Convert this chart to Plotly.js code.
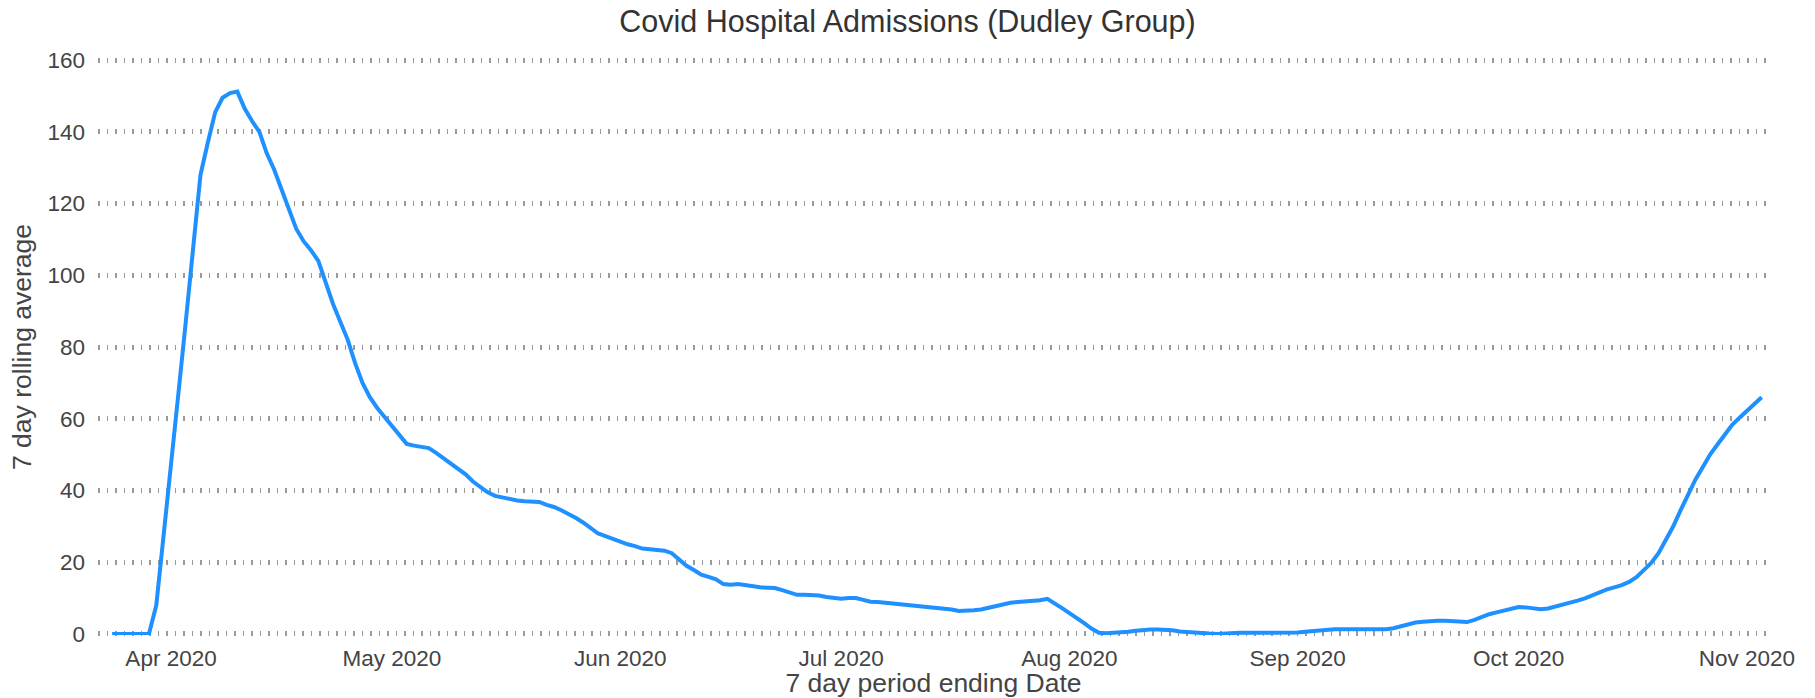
<!DOCTYPE html>
<html>
<head>
<meta charset="utf-8">
<script src="https://cdn.plot.ly/plotly-3.0.1.min.js"></script>
<style>
  html, body { margin: 0; padding: 0; background: #ffffff; }
  #chart { width: 1815px; height: 698px; }
</style>
</head>
<body>
<div id="chart"></div>
<script>
// First date of the series; one value per day follows
const startDate = "2020-03-24";

// 7 day rolling average of Covid hospital admissions (Dudley Group), daily from 24 Mar 2020 to 3 Nov 2020
const admissionsMar = [0, 0, 0, 0, 0, 0, 8, 27];
const admissionsApr = [47, 67, 87, 107, 128, 137, 145.5, 149.5, 150.8, 151.2,
  146.5, 143, 140, 134, 129.5, 124, 118.5, 113, 109.5, 107,
  104, 98, 92, 87, 82, 75.5, 70, 66, 63, 60.5];
const admissionsMay = [58, 55.5, 53, 52.5, 52.2, 51.8, 50.5, 49, 47.5, 46,
  44.5, 42.5, 41, 39.5, 38.5, 38, 37.5, 37.2, 37, 37,
  36.8, 36, 35.4, 34.5, 33.5, 32.3, 31, 29.5, 28, 27.3, 26.5];
const admissionsJun = [25.8, 25, 24.5, 23.8, 23.6, 23.5, 23.2, 22.5, 20.6, 19,
  17.8, 16.5, 15.9, 15.2, 13.9, 13.7, 13.9, 13.6, 13.2, 13,
  12.9, 12.8, 12.2, 11.5, 10.9, 10.9, 10.9, 10.7, 10.3, 10];
const admissionsJul = [9.8, 10, 10, 9.5, 9, 8.9, 8.7, 8.6, 8.2, 8,
  7.8, 7.6, 7.5, 7.3, 7, 6.8, 6.4, 6.4, 6.6, 6.8,
  7.3, 7.9, 8.4, 8.7, 8.9, 9, 9.1, 9.4, 9.8, 8.6, 7.2];
const admissionsAug = [5.8, 4.5, 3, 1.5, 0.3, 0.2, 0.3, 0.4, 0.6, 0.9,
  1.1, 1.2, 1.2, 1.2, 1, 0.7, 0.5, 0.3, 0.2, 0.1,
  0, 0, 0.2, 0.3, 0.3, 0.3, 0.3, 0.3, 0.2, 0.2, 0.3];
const admissionsSep = [0.4, 0.6, 0.8, 1.1, 1.2, 1.3, 1.3, 1.3, 1.2, 1.1,
  1.1, 1.2, 1.3, 1.6, 2.2, 2.8, 3.2, 3.4, 3.6, 3.7,
  3.7, 3.6, 3.4, 3.3, 3.9, 4.8, 5.5, 6, 6.5, 7];
const admissionsOct = [7.5, 7.4, 7.1, 6.9, 7.1, 7.6, 8.1, 8.7, 9.3, 9.9,
  10.8, 11.7, 12.4, 13, 13.6, 14.5, 15.8, 17.8, 19.8, 22.5,
  26, 30, 34.5, 39, 43, 46.5, 50, 52.8, 55.6, 58.3, 60.3];
const admissionsNov = [62.3, 64.2, 66];

// Axis text
const chartTitle = "Covid Hospital Admissions (Dudley Group)";
const xTitle = "7 day period ending Date";
const yTitle = "7 day rolling average";
const yTicks = [0, 20, 40, 60, 80, 100, 120, 140, 160];

const values = [].concat(admissionsMar, admissionsApr, admissionsMay, admissionsJun,
  admissionsJul, admissionsAug, admissionsSep, admissionsOct, admissionsNov);

// Consecutive daily dates for the values
const dates = [];
(function () {
  const d0 = new Date(startDate + "T00:00:00Z");
  for (let i = 0; i < values.length; i++) {
    const d = new Date(d0.getTime() + i * 86400000);
    dates.push(d.toISOString().slice(0, 10));
  }
})();

const FONT = "Arial, 'Liberation Sans', sans-serif";

const trace = {
  type: "scatter",
  mode: "lines",
  x: dates,
  y: values,
  line: { color: "#1E90FF", width: 4 },
  cliponaxis: false,
  hoverinfo: "x+y"
};

const layout = {
  width: 1815,
  height: 698,
  paper_bgcolor: "#ffffff",
  plot_bgcolor: "#ffffff",
  margin: { l: 98, r: 46, t: 59, b: 63 },
  showlegend: false,
  font: { family: FONT, color: "#444444" },
  title: {
    text: chartTitle,
    font: { family: FONT, size: 30.5, color: "#333333" },
    x: 0.5, xref: "container", xanchor: "center",
    y: 1 - 21 / 698, yref: "container", yanchor: "middle"
  },
  xaxis: {
    type: "date",
    range: ["2020-03-22 02:00", "2020-11-04 00:00"],
    tick0: "2020-04-01",
    dtick: "M1",
    tickformat: "%b %Y",
    ticks: "",
    ticklabelstandoff: 7,
    showgrid: false,
    zeroline: false,
    showline: false,
    tickfont: { family: FONT, size: 22.5, color: "#444444" },
    title: { text: xTitle, font: { family: FONT, size: 26.5, color: "#444444" }, standoff: 0 }
  },
  yaxis: {
    range: [-0.3, 160.3],
    tickvals: yTicks,
    ticks: "",
    ticklabelstandoff: 12,
    showgrid: true,
    gridcolor: "#9a9a9a",
    gridwidth: 5,
    griddash: "1.5px,7px",
    zeroline: false,
    showline: false,
    tickfont: { family: FONT, size: 22.5, color: "#444444" },
    title: { text: yTitle, font: { family: FONT, size: 26.5, color: "#444444" }, standoff: 8 }
  }
};

Plotly.newPlot("chart", [trace], layout, { displayModeBar: false, responsive: false });
</script>
</body>
</html>
